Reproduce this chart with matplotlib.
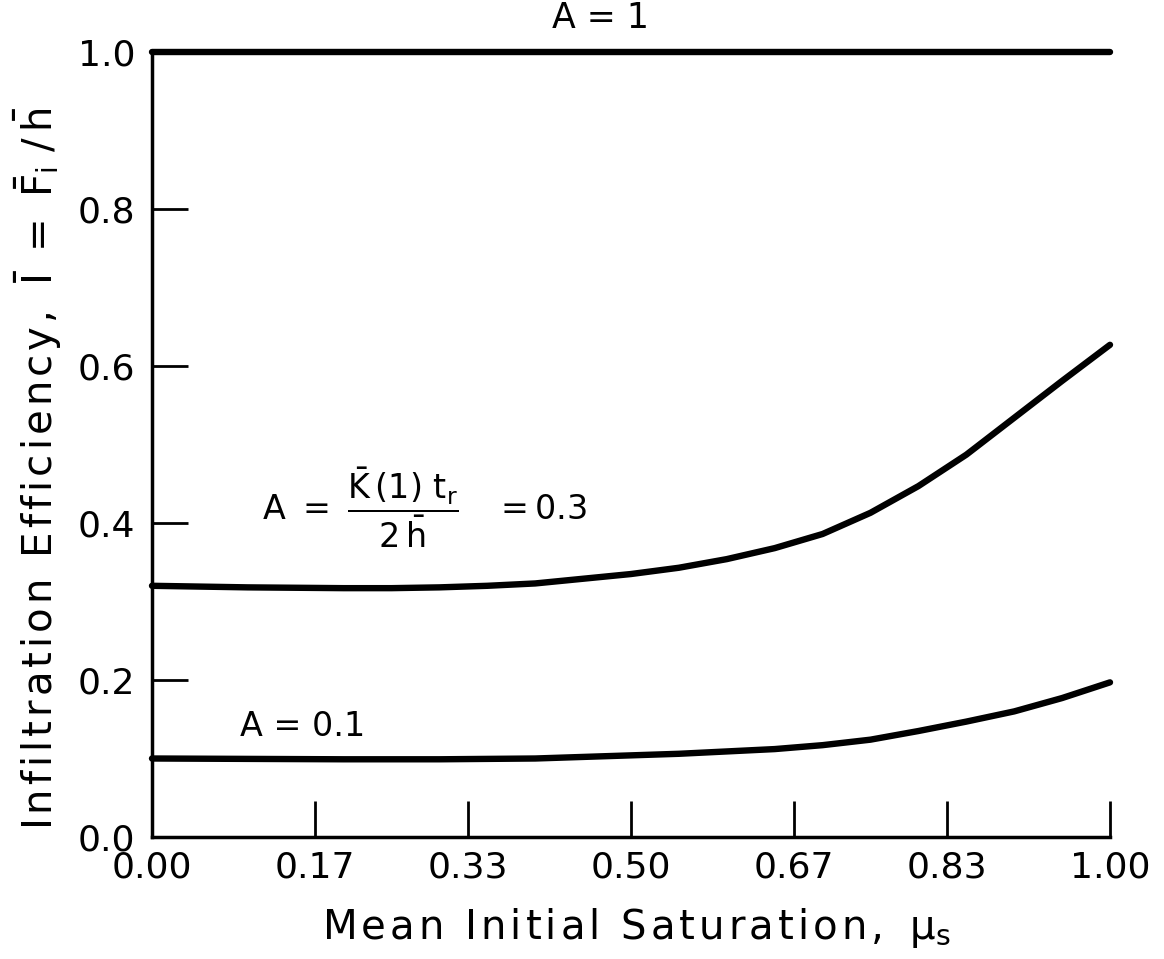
import numpy as np
import matplotlib
matplotlib.use("Agg")
import matplotlib.pyplot as plt

plt.rcParams['font.family'] = ['DejaVu Sans']
plt.rcParams['mathtext.fontset'] = 'dejavusans'
plt.rcParams['mathtext.default'] = 'regular'

# curve readings: mean initial saturation vs infiltration efficiency
mu_a1 = [0.0, 1.0]
eff_a1 = [1.0, 1.0]

mu_a03 = [0.0, 0.05, 0.10, 0.15, 0.20, 0.25, 0.30, 0.35, 0.40, 0.45, 0.50,
          0.55, 0.60, 0.65, 0.70, 0.75, 0.80, 0.85, 0.90, 0.95, 1.00]
eff_a03 = [0.320, 0.319, 0.318, 0.3175, 0.317, 0.317, 0.318, 0.320, 0.323, 0.329, 0.335,
           0.343, 0.354, 0.368, 0.386, 0.413, 0.447, 0.487, 0.534, 0.581, 0.627]

mu_a01 = [0.0, 0.10, 0.20, 0.30, 0.40, 0.45, 0.50, 0.55, 0.60, 0.65, 0.70,
          0.75, 0.80, 0.85, 0.90, 0.95, 1.00]
eff_a01 = [0.100, 0.0995, 0.099, 0.099, 0.100, 0.102, 0.104, 0.106, 0.109, 0.112, 0.117,
           0.124, 0.135, 0.147, 0.160, 0.177, 0.197]

xticks = [0.0, 0.17, 0.33, 0.50, 0.67, 0.83, 1.00]
xticklabels = ["0.00", "0.17", "0.33", "0.50", "0.67", "0.83", "1.00"]
yticks = [0.0, 0.2, 0.4, 0.6, 0.8, 1.0]
yticklabels = ["0.0", "0.2", "0.4", "0.6", "0.8", "1.0"]


def spaced(s):
    # the original lettering is widely spaced
    return "\u200a".join(s)


fig = plt.figure(figsize=(11.64, 9.59), dpi=100)
ax = fig.add_axes([152 / 1164, 1 - 837 / 959, 958 / 1164, 785 / 959])

for xs, ys in [(mu_a1, eff_a1), (mu_a03, eff_a03), (mu_a01, eff_a01)]:
    ax.plot(xs, ys, color='black', lw=4.6, solid_capstyle='round',
            solid_joinstyle='round', clip_on=False)

ax.set_xlim(0, 1)
ax.set_ylim(0, 1)
ax.spines['top'].set_visible(False)
ax.spines['right'].set_visible(False)
ax.spines['left'].set_linewidth(2.5)
ax.spines['bottom'].set_linewidth(2.5)

ax.set_xticks(xticks)
ax.set_xticklabels(xticklabels)
ax.set_yticks(yticks)
ax.set_yticklabels(yticklabels)
ax.tick_params(axis='both', direction='in', length=26, width=2, labelsize=26)
ax.tick_params(axis='x', pad=10)
ax.tick_params(axis='y', pad=12)

ax.set_xlabel(spaced("Mean Initial Saturation,") + r"  $\mu_\mathrm{s}$", fontsize=29)
ax.xaxis.set_label_coords(0.505, -0.088)
ax.set_ylabel(spaced("Infiltration Efficiency,") +
              r"  $\bar{\mathrm{I}}\ =\ \bar{\mathrm{F}}_\mathrm{i}\ /\,\bar{\mathrm{h}}$",
              fontsize=29)
ax.yaxis.set_label_coords(-0.092, 0.47)

ax.text(0.468, 1.043, "A = 1", fontsize=25, ha='center', va='center',
        transform=ax.transAxes)
ax.text(0.092, 0.141, "A = 0.1", fontsize=24, ha='left', va='center')
ax.text(0.115, 0.42, r"$A\ =\ \dfrac{\bar{K}\,(1)\,\,t_r}{2\,\bar{h}}\ \ \ =0.3$",
        fontsize=24, ha='left', va='center')

fig.savefig("out.png", dpi=100)
